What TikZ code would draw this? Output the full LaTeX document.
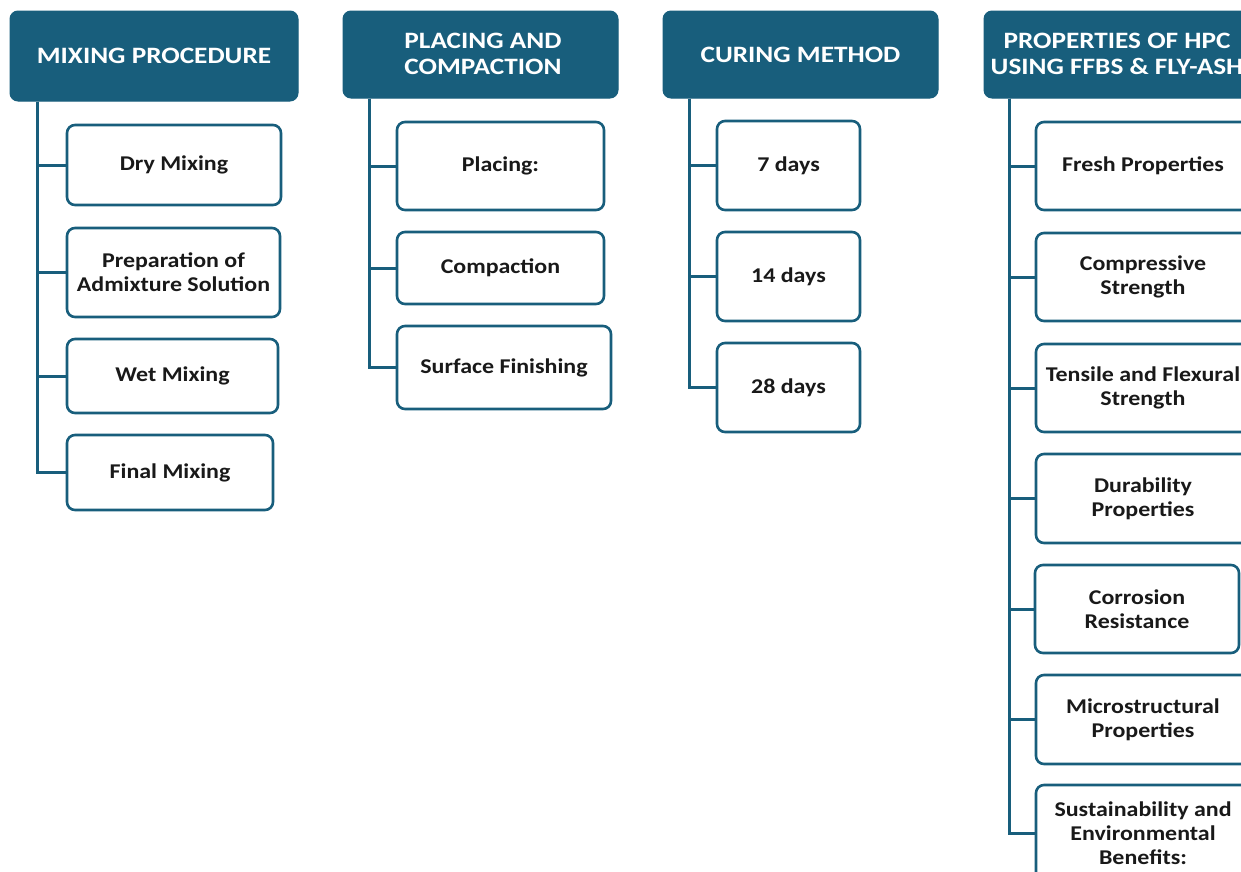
\documentclass[tikz,border=0pt]{standalone}
\usepackage{fontspec}
\setmainfont{Carlito}
\newfontfamily\hdrfont{Carlito}[FakeStretch=1.16]
\newfontfamily\boxfont{Carlito}[FakeStretch=1.14]
\definecolor{hpcblue}{RGB}{24,94,124}
\begin{document}
\begin{tikzpicture}[x=1pt,y=-1pt,
  hdrtext/.style={text=white,font=\hdrfont\bfseries\fontsize{23.5}{26}\selectfont,inner sep=0pt},
  hdr/.style={draw=hpcblue,fill=hpcblue,rounded corners=8pt,line width=1pt,
    hdrtext,align=center},
  sub/.style={draw=hpcblue,fill=white,rounded corners=8pt,line width=2.6pt,
    text=black!90,font=\boxfont\bfseries\fontsize{21}{24}\selectfont,inner sep=0pt,align=center},
  conn/.style={draw=hpcblue,line width=3pt}]
\useasboundingbox (0,0) rectangle (1241,871);
\clip (0,0) rectangle (1241,871);

% column headers
\node[hdr,minimum width=288pt,minimum height=90pt] (h1) at (154,56) {MIXING PROCEDURE};
\node[hdr,minimum width=275pt,minimum height=87pt] (h2) at (480.5,54.5) {};
\node[hdrtext,align=left] (h2t) at (483,54) {PLACING AND\\COMPACTION};
\node[hdr,minimum width=275pt,minimum height=87pt] (h3) at (800.5,54.5) {CURING METHOD};
\node[hdr,minimum width=276pt,minimum height=87pt] (h4) at (1122,54.5) {};
\node[hdrtext,align=center] (h4t) at (1117,54) {PROPERTIES OF HPC\\USING FFBS \& FLY-ASH};

% mixing procedure
\node[sub,minimum width=214pt,minimum height=80pt] (b11) at (174,165) {Dry Mixing};
\node[sub,minimum width=213pt,minimum height=89pt] (b12) at (173.5,272.5) {Preparation of\\Admixture Solution};
\node[sub,minimum width=211pt,minimum height=74pt] (b13) at (172.5,376) {Wet Mixing};
\node[sub,minimum width=206pt,minimum height=75pt] (b14) at (170,472.5) {Final Mixing};

% placing and compaction
\node[sub,minimum width=207pt,minimum height=88pt] (b21) at (500.5,166) {Placing:};
\node[sub,minimum width=207pt,minimum height=72pt] (b22) at (500.5,268) {Compaction};
\node[sub,minimum width=214pt,minimum height=83pt] (b23) at (504,367.5) {Surface Finishing};

% curing method
\node[sub,minimum width=143pt,minimum height=89pt] (b31) at (788.5,165.5) {7 days};
\node[sub,minimum width=143pt,minimum height=89pt] (b32) at (788.5,276.5) {14 days};
\node[sub,minimum width=143pt,minimum height=89pt] (b33) at (788.5,387.5) {28 days};

% properties
\node[sub,minimum width=214pt,minimum height=88pt] (b41) at (1143,166) {Fresh Properties};
\node[sub,minimum width=214pt,minimum height=88pt] (b42) at (1143,277) {Compressive\\Strength};
\node[sub,minimum width=214pt,minimum height=88pt] (b43) at (1143,388) {Tensile and Flexural\\Strength};
\node[sub,minimum width=214pt,minimum height=89pt] (b44) at (1143,498.5) {Durability\\Properties};
\node[sub,minimum width=204pt,minimum height=88pt] (b45) at (1137,609) {Corrosion\\Resistance};
\node[sub,minimum width=214pt,minimum height=89pt] (b46) at (1143,719.5) {Microstructural\\Properties};
\node[sub,minimum width=214pt,minimum height=96pt] (b47) at (1143,833) {Sustainability and\\Environmental\\Benefits:};

% tree connectors
\foreach \b in {b11,b12,b13,b14}
  \draw[conn] (h1.south west) ++(28,0) |- (\b.west);
\foreach \b in {b21,b22,b23}
  \draw[conn] (h2.south west) ++(27,0) |- (\b.west);
\foreach \b in {b31,b32,b33}
  \draw[conn] (h3.south west) ++(27,0) |- (\b.west);
\foreach \b in {b41,b42,b43,b44,b45,b46,b47}
  \draw[conn] (h4.south west) ++(26,0) |- (\b.west);
\end{tikzpicture}
\end{document}
